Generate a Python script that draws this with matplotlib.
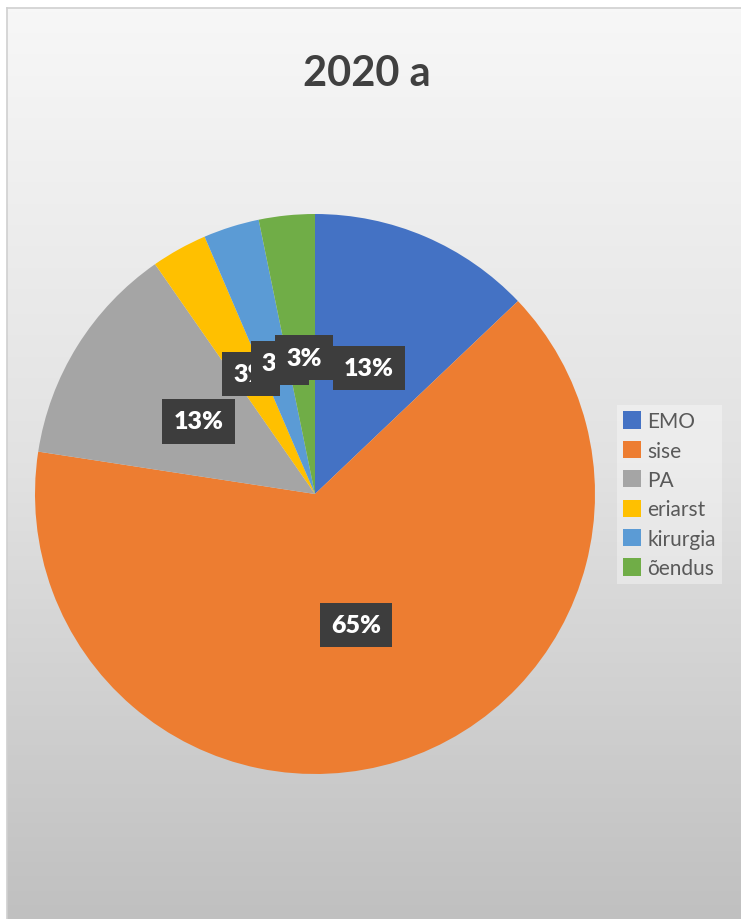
import numpy as np
import matplotlib
matplotlib.use('Agg')
import matplotlib.pyplot as plt
from matplotlib.colors import LinearSegmentedColormap

# Data
categories = ['EMO', 'sise', 'PA', 'eriarst', 'kirurgia', 'õendus']
counts = [4, 20, 4, 1, 1, 1]
colors = ['#4472C4', '#ED7D31', '#A5A5A5', '#FFC000', '#5B9BD5', '#70AD47']
title = '2020 a'
# small label nudges (Excel pushes crowded labels apart a bit)
label_shift_x = [0, 0, 0, 0.01, 0.02, 0.012]

W, H = 741, 920
fig = plt.figure(figsize=(W / 100, H / 100), dpi=100)
fig.patch.set_facecolor('white')

# Background chart area with vertical gradient
bg = fig.add_axes([7 / W, 0, 1 - 7 / W, (H - 9) / H])
grad = np.linspace(0, 1, 256).reshape(-1, 1)
cmap = LinearSegmentedColormap.from_list('bg', ['#f7f7f7', '#e2e2e2', '#c0c0c0'])
bg.imshow(grad, aspect='auto', cmap=cmap, extent=[0, 1, 0, 1], origin='upper')
bg.set_xlim(0, 1)
bg.set_ylim(0, 1)
bg.set_xticks([])
bg.set_yticks([])
for side in ['right', 'bottom']:
    bg.spines[side].set_visible(False)
for side in ['left', 'top']:
    bg.spines[side].set_color('#d0d0d0')
    bg.spines[side].set_linewidth(1.2)

# Pie
cx, cy, r = 315, 495, 280
ax = fig.add_axes([(cx - r) / W, (H - cy - r) / H, 2 * r / W, 2 * r / H])
ax.set_facecolor('none')
wedges, texts, autotexts = ax.pie(
    counts, colors=colors, startangle=90, counterclock=False,
    autopct='%.0f%%', pctdistance=0.49, radius=1,
    wedgeprops=dict(linewidth=0),
    textprops=dict(color='white', fontsize=18, fontweight='heavy', family='Lato'))
for t, dx in zip(autotexts, label_shift_x):
    x, y = t.get_position()
    t.set_position((x + dx, y))
    t.set_bbox(dict(boxstyle='square,pad=0.45', facecolor='#3d3d3d', edgecolor='none'))
ax.set_xlim(-1, 1)
ax.set_ylim(-1, 1)
ax.set_aspect('auto')

fig.text(367 / W, 1 - 74 / H, title, ha='center', va='center',
         fontsize=30, fontweight='bold', color='#404040', family='Lato')

leg = fig.legend(wedges, categories, loc='upper left',
                 bbox_to_anchor=(617 / W, 1 - 406 / H),
                 frameon=True, fancybox=False, framealpha=0.35,
                 facecolor='white', edgecolor='none',
                 prop=dict(family='Lato', size=15),
                 handlelength=0.85, handleheight=0.9, handletextpad=0.3,
                 labelspacing=0.45, borderpad=0.3, borderaxespad=0)
for t in leg.get_texts():
    t.set_color('#595959')

fig.savefig('out.png', dpi=100)
